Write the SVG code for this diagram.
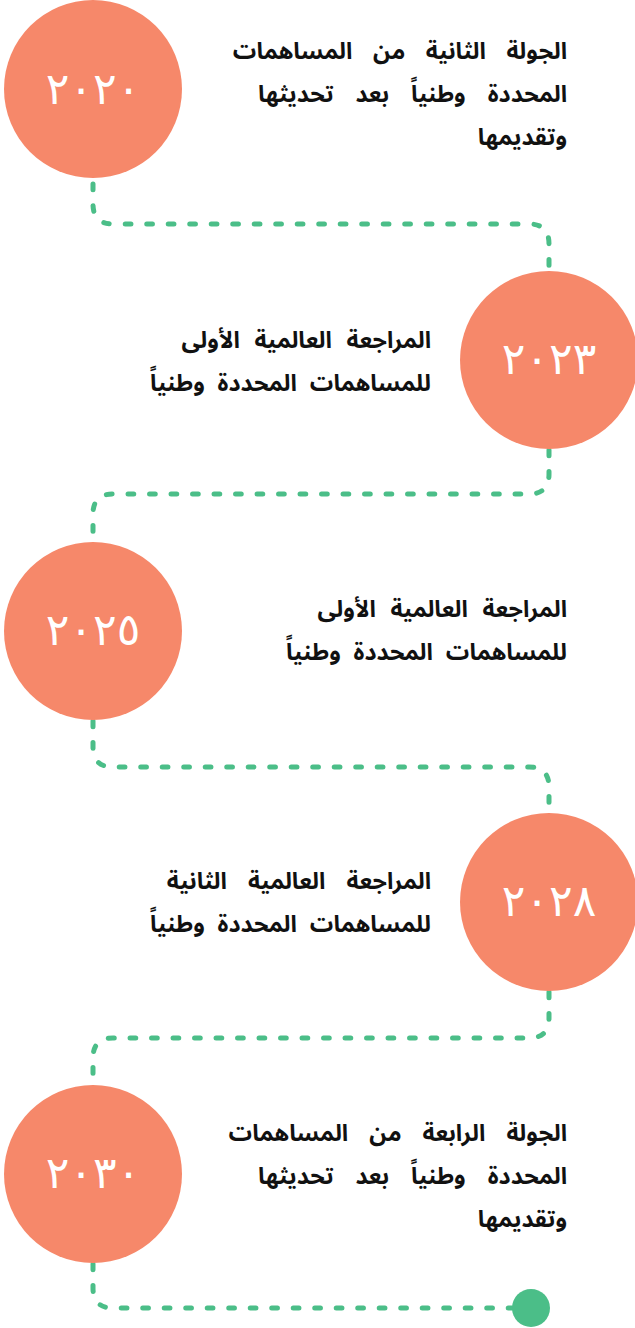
<svg xmlns="http://www.w3.org/2000/svg" width="635" height="1328" viewBox="0 0 635 1328">
<style>
.con{fill:none;stroke:#4bbe88;stroke-width:5;stroke-linecap:round;stroke-dasharray:5.7 15.8}
.dot{fill:#4bbe88}
.c{fill:#f6886a}
.yr{fill:#ffffff;font-family:"DejaVu Sans",sans-serif;font-size:44px;text-anchor:middle;letter-spacing:4px}
.lb{fill:#111111;font-family:"Noto Sans Arabic","DejaVu Sans",sans-serif;font-weight:bold;font-size:23.3px;text-anchor:end}
.w1{word-spacing:14.5px}
.w2{word-spacing:15.9px}
.w3{word-spacing:8.5px}
.w4{word-spacing:6.7px}
.w5{word-spacing:15px}
</style>
<rect width="635" height="1328" fill="#ffffff"/>
<g id="connectors">
<path class="con" d="M93,184 V204 Q93,224 113,224 H529 Q549,224 549,244 V271"/>
<path class="con" d="M549,450 V474 Q549,494 529,494 H113 Q93,494 93,514 V542"/>
<path class="con" d="M93,721 V747 Q93,767 113,767 H529 Q549,767 549,787 V813"/>
<path class="con" d="M549,992 V1018 Q549,1038 529,1038 H113 Q93,1038 93,1058 V1085"/>
<path class="con" d="M93,1264 V1288 Q93,1308 113,1308 H515"/>
<circle class="dot" cx="531" cy="1308" r="19"/>
</g>
<g id="n2020">
<circle class="c" cx="93" cy="89" r="89"/>
<text class="yr" x="93" y="104">٢٠٢٠</text>
<text class="lb w1" x="567" y="59">الجولة الثانية من المساهمات</text>
<text class="lb w2" x="567" y="102">المحددة وطنياً بعد تحديثها</text>
<text class="lb" x="567" y="145">وتقديمها</text>
</g>
<g id="n2023">
<circle class="c" cx="549" cy="360" r="89"/>
<text class="yr" x="549" y="374">٢٠٢٣</text>
<text class="lb w3" x="431" y="348">المراجعة العالمية الأولى</text>
<text class="lb w4" x="431" y="391">للمساهمات المحددة وطنياً</text>
</g>
<g id="n2025">
<circle class="c" cx="93" cy="631" r="89"/>
<text class="yr" x="93" y="645">٢٠٢٥</text>
<text class="lb w3" x="567" y="617">المراجعة العالمية الأولى</text>
<text class="lb w4" x="567" y="660">للمساهمات المحددة وطنياً</text>
</g>
<g id="n2028">
<circle class="c" cx="549" cy="902" r="89"/>
<text class="yr" x="549" y="916">٢٠٢٨</text>
<text class="lb w5" x="431" y="889">المراجعة العالمية الثانية</text>
<text class="lb w4" x="431" y="932">للمساهمات المحددة وطنياً</text>
</g>
<g id="n2030">
<circle class="c" cx="93" cy="1174" r="89"/>
<text class="yr" x="93" y="1188">٢٠٣٠</text>
<text class="lb w5" x="567" y="1141">الجولة الرابعة من المساهمات</text>
<text class="lb w2" x="567" y="1184">المحددة وطنياً بعد تحديثها</text>
<text class="lb" x="567" y="1227">وتقديمها</text>
</g>
</svg>
